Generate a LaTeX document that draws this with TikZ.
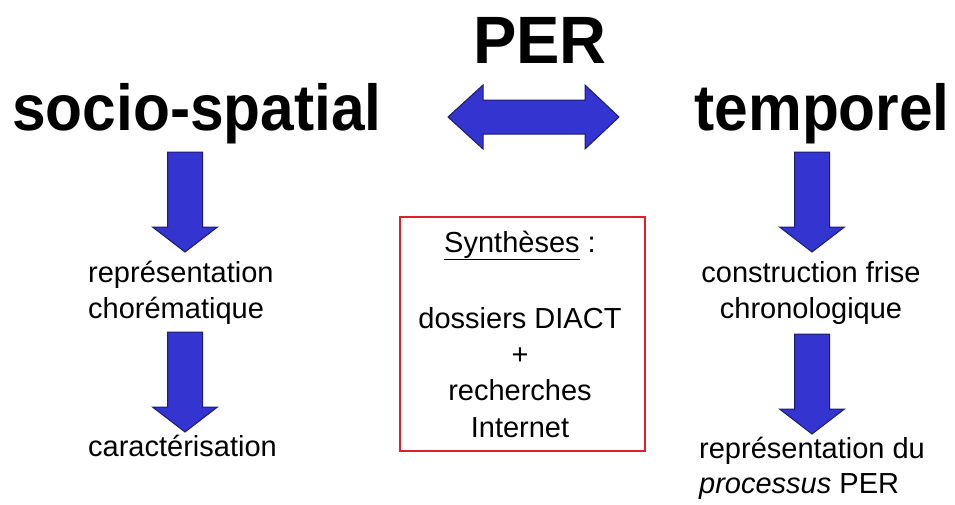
\documentclass[tikz,border=0pt]{standalone}
\usepackage{fontspec}
\usepackage{graphicx}
\setmainfont{Liberation Sans}
\definecolor{arrowblue}{RGB}{52,52,208}
\definecolor{arrowedge}{RGB}{28,28,110}
\definecolor{boxred}{RGB}{226,30,44}
\begin{document}
\begin{tikzpicture}[x=1pt,y=-1pt,
  bigword/.style={font=\fontsize{65}{70}\selectfont\bfseries, inner sep=0pt},
  smalltxt/.style={font=\fontsize{29}{36}\selectfont, inner sep=0pt},
  blockarrow/.style={fill=arrowblue, draw=arrowedge, line width=1pt, line join=miter},
  darr/.pic={\draw[blockarrow] (-17.5,0) -- (17.5,0) -- (17.5,75) -- (32.5,75) -- (0,100) -- (-32.5,75) -- (-17.5,75) -- cycle;}
]
\useasboundingbox (0,0) rectangle (955,504);

% titles
\node[font=\fontsize{67}{70}\selectfont\bfseries, inner sep=0pt, anchor=base] (per) at (540,63) {\scalebox{0.97}[1]{PER}};
\node[bigword, anchor=base west] (socio) at (12,130) {\scalebox{0.93}[1]{socio-spatial}};
\node[bigword, anchor=base east] (temp) at (950,130) {\scalebox{0.93}[1]{temporel}};

% double arrow
\draw[blockarrow] (448,117) -- (483,85) -- (483,100) -- (585,100) -- (585,85) -- (619,117)
  -- (585,149) -- (585,134) -- (483,134) -- (483,149) -- cycle;

% down arrows
\pic at (185,152) {darr};
\pic at (185,332) {darr};
\pic at (812,152) {darr};
\pic at (812,334) {darr};

% left column
\node[smalltxt, anchor=base west] (rep1) at (88,282) {représentation};
\node[smalltxt, anchor=base west] (chor) at (88,318) {chorématique};
\node[smalltxt, anchor=base west] (carac) at (88,456) {caractérisation};

% right column
\node[smalltxt, anchor=base] (cons) at (811,282) {construction frise};
\node[smalltxt, anchor=base] (chrono) at (811,318) {chronologique};
\node[smalltxt, anchor=base west] (rep2) at (699,458) {représentation du};
\node[smalltxt, anchor=base west] (proc) at (699,493) {\textit{processus} PER};

% central box
\node[draw=boxred, line width=2.5pt, minimum width=245pt, minimum height=234pt, inner sep=0pt] (box) at (522.5,334) {};
\node[smalltxt, anchor=base] (syn) at (520,252) {\underline{Synthèses} :};
\node[smalltxt, anchor=base] (doss) at (520,328) {dossiers DIACT};
\node[smalltxt, anchor=base] (plus) at (520,364) {+};
\node[smalltxt, anchor=base] (rech) at (520,400) {recherches};
\node[smalltxt, anchor=base] (inter) at (520,437) {Internet};
\end{tikzpicture}
\end{document}
